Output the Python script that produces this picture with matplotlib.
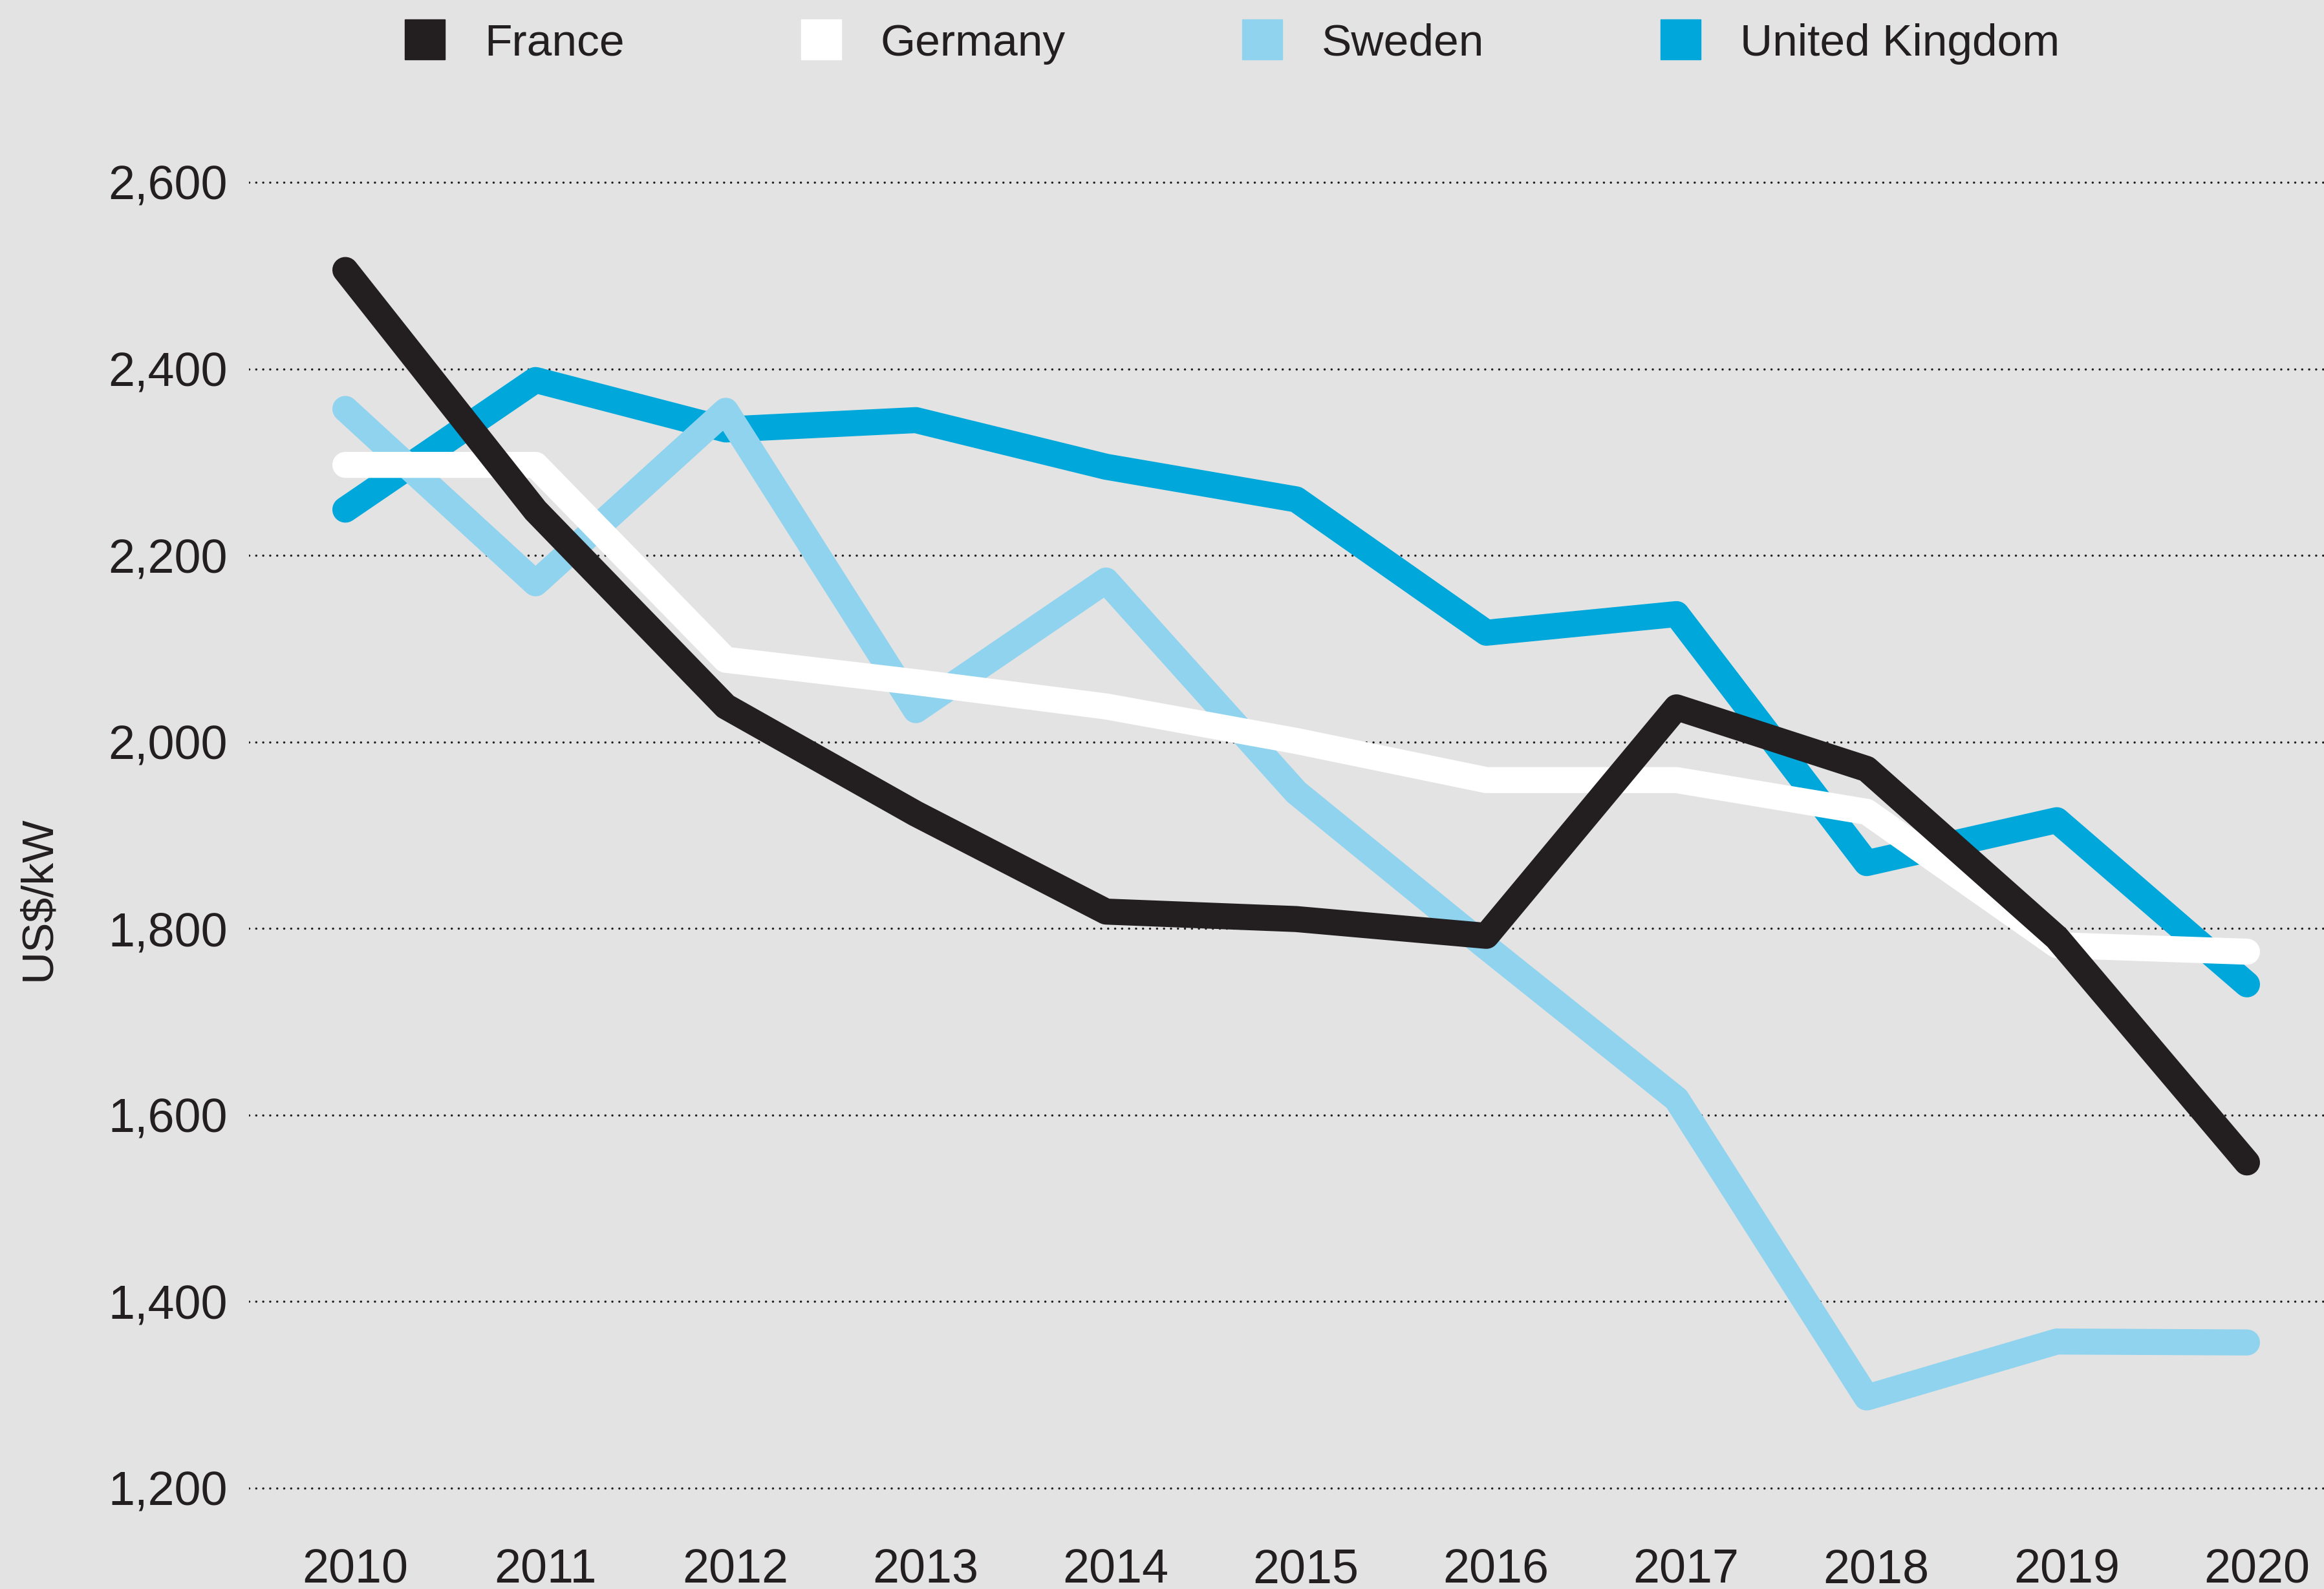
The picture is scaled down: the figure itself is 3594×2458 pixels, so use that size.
import matplotlib
matplotlib.use("Agg")
import matplotlib.pyplot as plt
from matplotlib.lines import Line2D
from matplotlib import font_manager as fm
from matplotlib.ticker import FuncFormatter
from matplotlib.transforms import ScaledTranslation

years = [2010, 2011, 2012, 2013, 2014, 2015, 2016, 2017, 2018, 2019, 2020]
france = [2506, 2248, 2038, 1923, 1818, 1810, 1792, 2037, 1971, 1790, 1549]
germany = [2297, 2297, 2088, 2064, 2038, 2001, 1959, 1959, 1925, 1782, 1775]
sweden = [2357, 2170, 2355, 2034, 2173, 1946, 1780, 1617, 1297, 1357, 1356]
uk = [2249, 2388, 2335, 2345, 2295, 2260, 2117, 2137, 1870, 1916, 1740]
series_names = ["France", "Germany", "Sweden", "United Kingdom"]
yticks = [1200, 1400, 1600, 1800, 2000, 2200, 2400, 2600]

colors = {"France": "#231f20", "Germany": "#ffffff",
          "Sweden": "#8fd3ee", "United Kingdom": "#00a7db"}
bg = "#e3e3e3"
txt = "#231f20"

names = {f.name for f in fm.fontManager.ttflist}
narrow = "Liberation Sans Narrow" if "Liberation Sans Narrow" in names else "Liberation Sans"
narrow_size = 61 if narrow == "Liberation Sans Narrow" else 50
plt.rcParams["font.family"] = ["Liberation Sans", "DejaVu Sans"]

fig = plt.figure(figsize=(35.94, 24.58), dpi=100, facecolor=bg)
ax = fig.add_axes([385 / 3594, 1 - 2350 / 2458, 1 - 385 / 3594, 2200 / 2458])
ax.set_facecolor(bg)
ax.set_xlim(2009.493, 2020.405)
ax.set_ylim(1166.5, 2691.5)

for y in yticks:
    ax.axhline(y, color=txt, lw=2.5, linestyle=(0, (0.01, 3.1)),
               dash_capstyle="round", zorder=1)

lw = 29
data = {"United Kingdom": uk, "Sweden": sweden, "Germany": germany, "France": france}
for z, name in enumerate(["United Kingdom", "Sweden", "Germany", "France"]):
    ax.plot(years, data[name], color=colors[name], lw=lw,
            solid_capstyle="round", solid_joinstyle="round", zorder=2 + z)

for s in ax.spines.values():
    s.set_visible(False)
ax.set_xticks(years)
ax.set_xticklabels([str(y) for y in years])
ax.set_yticks(yticks)
ax.yaxis.set_major_formatter(FuncFormatter(lambda v, p: f"{int(v):,}"))
ax.tick_params(axis="both", length=0, labelsize=53, labelcolor=txt)
ax.tick_params(axis="x", pad=32)
ax.tick_params(axis="y", pad=24)
shift = ScaledTranslation(0.15, 0, fig.dpi_scale_trans)
for lab in ax.get_xticklabels():
    lab.set_transform(lab.get_transform() + shift)

fig.text(59 / 3594, 1 - 1390 / 2458, "US$/kW", rotation=90, ha="center", va="center",
         fontsize=narrow_size, color=txt, family=[narrow, "DejaVu Sans"])

handles = [Line2D([], [], marker="s", ms=44.6, linestyle="none",
                  markerfacecolor=colors[n], markeredgecolor=colors[n]) for n in series_names]
leg = fig.legend(handles, series_names, loc="center", bbox_to_anchor=(0.531, 0.9725),
                 ncol=4, frameon=False, handlelength=0.75, handletextpad=0.95,
                 columnspacing=4.0, prop={"family": narrow, "size": narrow_size})
for t in leg.get_texts():
    t.set_color(txt)

fig.savefig("out.png", dpi=100, facecolor=bg)
